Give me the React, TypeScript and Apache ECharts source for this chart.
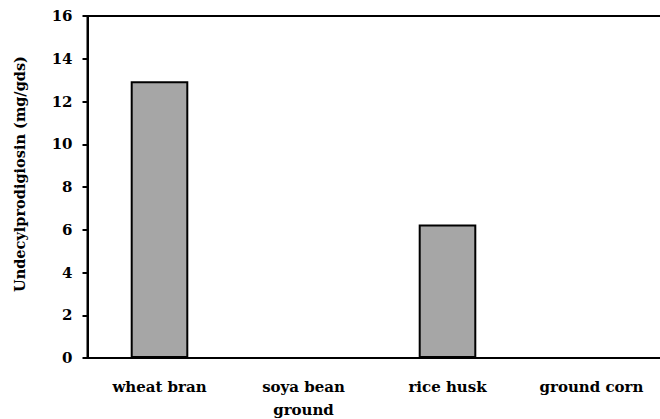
import React, { useEffect, useRef } from "react";
import * as echarts from "echarts";

// Substrate categories and undecylprodigiosin yields (mg/gds)
const substrates = ["wheat bran", "soya bean\nground", "rice husk", "ground corn"];
const yields = [12.95, 0, 6.25, 0];
const yMin = 0;
const yMax = 16;
const yStep = 2;

const FONT = "DejaVu Serif";

export default function App() {
  const ref = useRef<HTMLDivElement>(null);

  useEffect(() => {
    if (!ref.current) return;
    const chart = echarts.init(ref.current, undefined, { renderer: "svg" });
    chart.setOption({
      animation: false,
      backgroundColor: "#ffffff",
      textStyle: { fontFamily: FONT },
      grid: {
        left: 87.5,
        right: 8.5,
        top: 16,
        bottom: 61,
        outerBoundsMode: "none",
        containLabel: false,
        show: true,
        borderColor: "#000000",
        borderWidth: 2,
        backgroundColor: "transparent",
      },
      xAxis: {
        type: "category",
        data: substrates,
        axisLine: { lineStyle: { color: "#000000", width: 2 } },
        axisTick: { length: 5, lineStyle: { color: "#000000", width: 2 } },
        axisLabel: {
          interval: 0,
          margin: 17,
          color: "#000000",
          fontFamily: FONT,
          fontWeight: "bold",
          fontSize: 15,
          lineHeight: 23,
        },
        splitLine: { show: false },
      },
      yAxis: {
        type: "value",
        min: yMin,
        max: yMax,
        interval: yStep,
        name: "Undecylprodigiosin (mg/gds)",
        nameLocation: "middle",
        nameGap: 61,
        nameTextStyle: {
          color: "#000000",
          fontFamily: FONT,
          fontWeight: "bold",
          fontSize: 14.5,
          padding: [0, 0, 0, 26],
        },
        axisLine: { show: true, lineStyle: { color: "#000000", width: 2 } },
        axisTick: { show: true, length: 5, lineStyle: { color: "#000000", width: 2 } },
        axisLabel: {
          margin: 15,
          color: "#000000",
          fontFamily: FONT,
          fontWeight: "bold",
          fontSize: 15,
        },
        splitLine: { show: false },
      },
      series: [
        {
          type: "bar",
          data: yields,
          barCategoryGap: "60%",
          itemStyle: {
            color: "#a6a6a6",
            borderColor: "#000000",
            borderWidth: 2,
          },
        },
      ],
    });
    return () => chart.dispose();
  }, []);

  return (
    <div
      style={{
        position: "absolute",
        left: 0,
        top: 0,
        width: 660,
        height: 419,
        overflow: "hidden",
        background: "#ffffff",
      }}
    >
      <div ref={ref} style={{ width: 672, height: 419 }} />
    </div>
  );
}
